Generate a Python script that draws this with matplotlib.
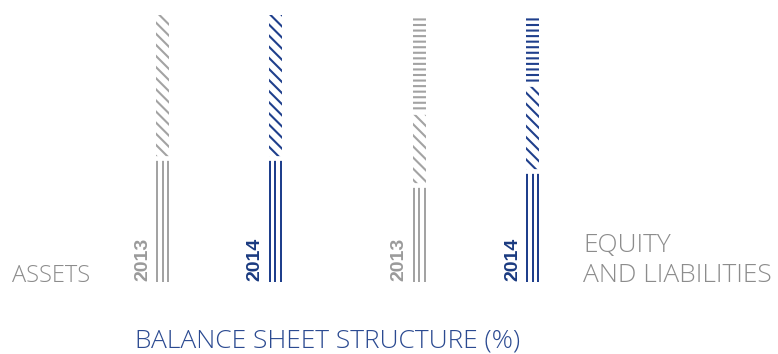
import matplotlib
matplotlib.use("Agg")
import matplotlib.pyplot as plt

# ---- data (percent of balance sheet total) ----
years = ["2013", "2014"]
# Assets side (bottom -> top)
assets_noncurrent = [46.3, 46.3]
assets_current = [53.7, 53.7]
# Equity and liabilities side (bottom -> top)
equity = [36.3, 41.4]
noncurrent_liabilities = [27.3, 32.6]
current_liabilities = [36.4, 26.0]

year_colors = ["#a3a3a3", "#1f3f8c"]
label_colors = ["#9a9a9a", "#1a3a80"]
text_grey = "#8c8c8c"
title_blue = "#2b4a91"

plt.rcParams["hatch.linewidth"] = 1.5

W, H = 778, 354
fig = plt.figure(figsize=(W / 100, H / 100), dpi=100)

bottom_f = 72 / H
height_f = 267 / H
ax1 = fig.add_axes([106.25 / W, bottom_f, 225 / W, height_f])
ax2 = fig.add_axes([362.25 / W, bottom_f, 227 / W, height_f])

hatches = [None, "\\\\\\", "---"]
gap_lw = 3.4


def draw_side(ax, segments, axw_px):
    px = 2.0 / axw_px          # one pixel in data units
    bw = 13 * px               # bar width
    lw = 2 * px                # width of a vertical stripe
    x = list(range(len(years)))
    for i, yr in enumerate(years):
        cum = 0
        for s, seg in enumerate(segments):
            if hatches[s] is None:
                # three vertical stripes
                for k in range(3):
                    xc = x[i] - bw / 2 + lw / 2 + k * (bw - lw) / 2
                    ax.bar(xc, seg[i], bottom=cum, width=lw,
                           color=year_colors[i], linewidth=0)
            else:
                ax.bar(x[i], seg[i], bottom=cum, width=bw, facecolor="none",
                       edgecolor=year_colors[i], linewidth=0, hatch=hatches[s])
            cum += seg[i]
            if s < len(segments) - 1:
                ax.hlines(cum, x[i] - bw, x[i] + bw, color="white",
                          linewidth=gap_lw, zorder=5)
        ax.text(x[i] - bw / 2 - 5 * px, 0.3, yr, rotation=90, ha="right", va="bottom",
                color=label_colors[i], fontsize=14, fontweight="bold",
                family="Liberation Sans")
    ax.set_xlim(-0.5, 1.5)
    ax.set_ylim(0, 100)
    ax.axis("off")


draw_side(ax1, [assets_noncurrent, assets_current], 225)
draw_side(ax2, [equity, noncurrent_liabilities, current_liabilities], 227)

font = dict(family="Open Sans", weight="light")
fig.text(12 / W, 72.5 / H, "ASSETS", color=text_grey, fontsize=17,
         va="baseline", ha="left", **font)
fig.text(583 / W, (H - 252) / H, "EQUITY", color=text_grey, fontsize=19,
         va="baseline", ha="left", **font)
fig.text(583 / W, 72.5 / H, "AND LIABILITIES", color=text_grey, fontsize=19,
         va="baseline", ha="left", **font)
fig.text(135 / W, (H - 348) / H, "BALANCE SHEET STRUCTURE (%)", color=title_blue,
         fontsize=19, va="baseline", ha="left", **font)

fig.savefig("out.png", dpi=100)
